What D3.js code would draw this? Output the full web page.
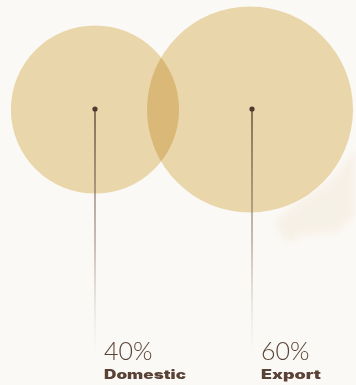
<!DOCTYPE html>
<html><head><meta charset="utf-8">
<script src="https://cdn.jsdelivr.net/npm/d3@7"></script>
<style>
html,body{margin:0;padding:0;background:#fbf9f5;}
svg{display:block;}
</style></head>
<body>
<svg id="chart" width="356" height="385"></svg>
<script>
const categories = ["Domestic", "Export"];
const values = [40, 60];
const valueLabels = ["40%", "60%"];

const W = 356, H = 385;
const svg = d3.select("#chart");
const defs = svg.append("defs");

// faint watercolor texture at the lower right
const blur = defs.append("filter").attr("id","blur").attr("x","-50%").attr("y","-50%").attr("width","200%").attr("height","200%");
blur.append("feGaussianBlur").attr("stdDeviation",3);
const tex = svg.append("g").attr("filter","url(#blur)").attr("opacity",0.6);
tex.append("path").attr("d","M356,150 L356,215 L345,225 L338,232 L300,236 L292,242 L282,238 L274,222 L300,200 L330,180 Z").attr("fill","#f4ecdf");

const pos = d3.scalePoint().domain(categories).range([95, 252]);
const r = d3.scaleSqrt().domain([0, 60]).range([0, 103]);
const cy = 109.5;

const grad = defs.append("linearGradient").attr("id","lineGrad").attr("x1",0).attr("y1",0).attr("x2",0).attr("y2",1);
grad.append("stop").attr("offset","0%").attr("stop-color","#5a4438").attr("stop-opacity",1);
grad.append("stop").attr("offset","55%").attr("stop-color","#8a766a").attr("stop-opacity",0.65);
grad.append("stop").attr("offset","100%").attr("stop-color","#c9bcb2").attr("stop-opacity",0);

const data = categories.map((c,i)=>({cat:c, v:values[i], label:valueLabels[i]}));

svg.append("g").selectAll("circle").data(data).join("circle")
  .attr("cx", (d,i)=>pos(d.cat) - (i===1?2:0)).attr("cy", cy)
  .attr("r", d=>r(d.v))
  .attr("fill","#eedcb2")
  .style("mix-blend-mode","multiply");

svg.append("g").selectAll("rect").data(data).join("rect")
  .attr("x", d=>pos(d.cat)-0.7).attr("y", 109)
  .attr("width",1.4).attr("height", 245)
  .attr("fill","url(#lineGrad)");

svg.append("g").selectAll("circle").data(data).join("circle")
  .attr("cx", d=>pos(d.cat)).attr("cy",109).attr("r",2.6).attr("fill","#4e3a30");

const lab = svg.append("g").selectAll("g").data(data).join("g")
  .attr("transform", d=>`translate(${pos(d.cat)+9},0)`);
lab.append("text").attr("y",360).text(d=>d.label)
  .attr("font-family","Lato, 'Open Sans', sans-serif").attr("font-weight",300)
  .attr("font-size",25).attr("fill","#5b4236");
lab.append("text").attr("y",378.5).text(d=>d.cat)
  .attr("font-family","Inter, 'DejaVu Sans', sans-serif").attr("font-weight",900)
  .attr("font-size",12.5).attr("fill","#5b4236")
  .attr("textLength", d=> d.cat==="Domestic"?82:60).attr("lengthAdjust","spacingAndGlyphs");
</script>
</body></html>
